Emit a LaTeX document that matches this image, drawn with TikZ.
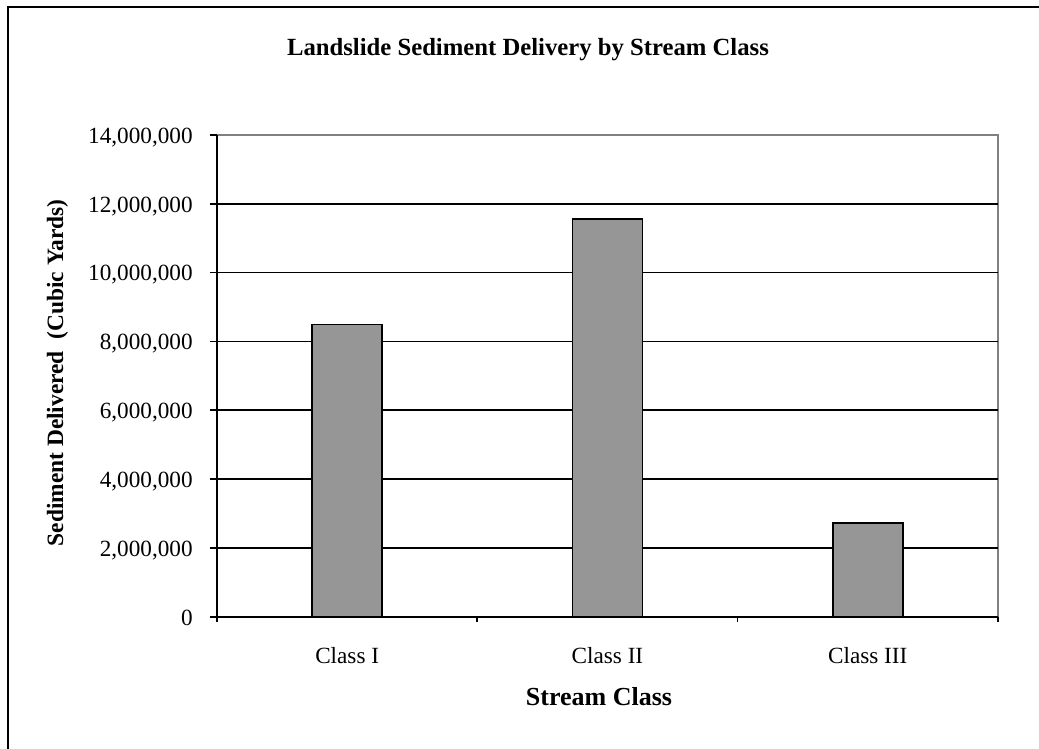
\documentclass[tikz,border=0pt]{standalone}
\usepackage{fontspec}
\setmainfont{Liberation Serif}
\definecolor{barfill}{HTML}{969696}
\definecolor{plotedge}{HTML}{808080}
\tikzset{
  gridline/.style={line width=0.85pt},
  bar/.style={draw=black, fill=barfill, line width=0.85pt},
  ticklabel/.style={font=\fontsize{11.6}{13}\selectfont, inner sep=0pt},
  axistitle/.style={font=\fontsize{11.7}{13}\selectfont\bfseries, inner sep=0pt}
}
\begin{document}
\begin{tikzpicture}[x=0.5pt, y=-0.5pt]
        \useasboundingbox (0,0) rectangle (1039,749);
        \fill[white] (0,0) rectangle (1039,749);

        % outer frame
        \draw[line width=1.35pt] (8,749) -- (8,7) -- (1039,7);

        % titles
        \node[axistitle, font=\fontsize{12.35}{14}\selectfont\bfseries, anchor=base] (title) at (528,56) {Landslide Sediment Delivery by Stream Class};
        \node[axistitle, font=\fontsize{13}{15}\selectfont\bfseries, anchor=base] (xtitle) at (599,705) {Stream Class};
        \node[axistitle, anchor=base, rotate=90] (ytitle) at (63,373) {Sediment Delivered \ (Cubic Yards)};

        % plot area: one unit per class, one unit per million
        \begin{scope}[shift={(217,616.7)}, x=130.15pt, y=17.205pt]
        % border
        \draw[plotedge, line width=1pt] (0,14) -- (3,14) -- (3,0);

        % gridlines
        \draw[gridline] (0,2) -- (3,2);
        \draw[gridline] (0,4) -- (3,4);
        \draw[gridline] (0,6) -- (3,6);
        \draw[gridline] (0,8) -- (3,8);
        \draw[gridline] (0,10) -- (3,10);
        \draw[gridline] (0,12) -- (3,12);

        % bars
        \draw[bar] (0.3655,0) rectangle (0.6345,8.49);
        \draw[bar] (1.3655,0) rectangle (1.6345,11.56);
        \draw[bar] (2.3655,0) rectangle (2.6345,2.72);

        % axes and ticks
        \draw[gridline] ([yshift=-2.75pt]0,0) -- (0,14);
        \draw[gridline] ([xshift=-3.5pt]0,0) -- (3,0);
        \draw[gridline] ([xshift=-3.5pt]0,2) -- (0,2);
        \draw[gridline] ([xshift=-3.5pt]0,4) -- (0,4);
        \draw[gridline] ([xshift=-3.5pt]0,6) -- (0,6);
        \draw[gridline] ([xshift=-3.5pt]0,8) -- (0,8);
        \draw[gridline] ([xshift=-3.5pt]0,10) -- (0,10);
        \draw[gridline] ([xshift=-3.5pt]0,12) -- (0,12);
        \draw[gridline] ([xshift=-3.5pt]0,14) -- (0,14);
        \draw[gridline] (1,0) -- ([yshift=-2.75pt]1,0);
        \draw[gridline] (2,0) -- ([yshift=-2.75pt]2,0);
        \draw[gridline] (3,0) -- ([yshift=-2.75pt]3,0);

        % value labels
        \node[ticklabel, anchor=base east] (y0) at ([xshift=-12pt, yshift=-4.15pt]0,0) {0};
        \node[ticklabel, anchor=base east] (y2) at ([xshift=-12pt, yshift=-4.15pt]0,2) {2,000,000};
        \node[ticklabel, anchor=base east] (y4) at ([xshift=-12pt, yshift=-4.15pt]0,4) {4,000,000};
        \node[ticklabel, anchor=base east] (y6) at ([xshift=-12pt, yshift=-4.15pt]0,6) {6,000,000};
        \node[ticklabel, anchor=base east] (y8) at ([xshift=-12pt, yshift=-4.15pt]0,8) {8,000,000};
        \node[ticklabel, anchor=base east] (y10) at ([xshift=-12pt, yshift=-4.15pt]0,10) {10,000,000};
        \node[ticklabel, anchor=base east] (y12) at ([xshift=-12pt, yshift=-4.15pt]0,12) {12,000,000};
        \node[ticklabel, anchor=base east] (y14) at ([xshift=-12pt, yshift=-4.15pt]0,14) {14,000,000};

        % class labels
        \node[ticklabel, anchor=base] (classI) at ([yshift=-23.15pt]0.5,0) {Class I};
        \node[ticklabel, anchor=base] (classII) at ([yshift=-23.15pt]1.5,0) {Class II};
        \node[ticklabel, anchor=base] (classIII) at ([yshift=-23.15pt]2.5,0) {Class III};
        \end{scope}
    \end{tikzpicture}
\end{document}
